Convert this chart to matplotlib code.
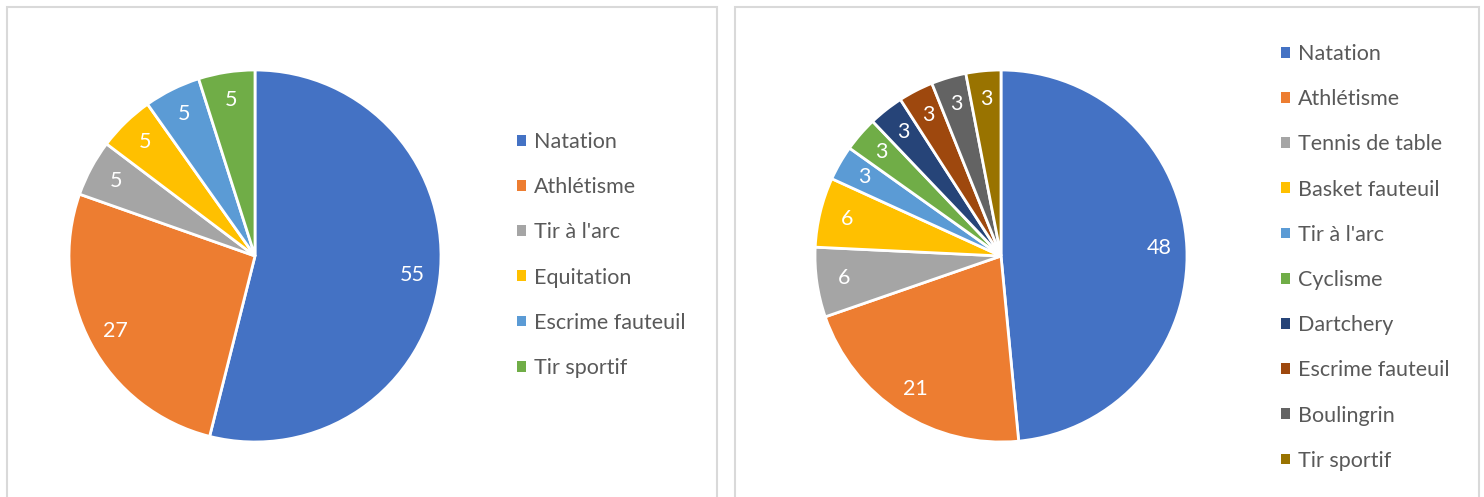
import matplotlib
matplotlib.use("Agg")
import matplotlib.pyplot as plt
from matplotlib.patches import Rectangle

left_labels = ["Natation", "Athlétisme", "Tir à l'arc", "Equitation", "Escrime fauteuil", "Tir sportif"]
left_values = [55, 27, 5, 5, 5, 5]

right_labels = ["Natation", "Athlétisme", "Tennis de table", "Basket fauteuil", "Tir à l'arc",
                "Cyclisme", "Dartchery", "Escrime fauteuil", "Boulingrin", "Tir sportif"]
right_values = [48, 21, 6, 6, 3, 3, 3, 3, 3, 3]

left_colors = ["#4472C4", "#ED7D31", "#A5A5A5", "#FFC000", "#5B9BD5", "#70AD47"]
right_colors = ["#4472C4", "#ED7D31", "#A5A5A5", "#FFC000", "#5B9BD5", "#70AD47",
                "#264478", "#9E480E", "#636363", "#997300"]

plt.rcParams['font.family'] = ['Lato', 'DejaVu Sans']

W, H = 1484, 497
fig = plt.figure(figsize=(W / 100, H / 100), dpi=100)
fig.patch.set_facecolor("white")

# panel borders
for (x0, x1) in [(7, 717), (735, 1479)]:
    fig.patches.append(Rectangle((x0 / W, -0.05), (x1 - x0) / W, (H - 7) / H + 0.05,
                                 transform=fig.transFigure, fill=False,
                                 edgecolor="#D9D9D9", linewidth=1.5))

FS = 15.5

def draw_pie(cx, cy, r, values, colors, labels, legx, legy_top):
    ax = fig.add_axes([(cx - r) / W, (H - cy - r) / H, 2 * r / W, 2 * r / H])
    vals = list(values)
    wedges, texts, autotexts = ax.pie(
        vals, colors=colors, startangle=90, counterclock=False,
        autopct=lambda p: f"{round(p * sum(vals) / 100):d}", pctdistance=0.85,
        wedgeprops=dict(edgecolor="white", linewidth=2),
        textprops=dict(color="white", fontsize=FS))
    ax.set_xlim(-1.0, 1.0)
    ax.set_ylim(-1.0, 1.0)
    ax.set_aspect("equal", adjustable="box")
    ax.axis("off")
    leg = fig.legend(wedges, labels, loc="upper left",
                     bbox_to_anchor=(legx / W, 1 - legy_top / H),
                     frameon=False, fontsize=FS, labelcolor="#595959",
                     handlelength=0.4, handleheight=0.4, handletextpad=0.4,
                     labelspacing=1.17, borderpad=0, borderaxespad=0)
    for h in leg.legend_handles:
        h.set_edgecolor("none")
    return ax

draw_pie(255, 256, 186, left_values, left_colors, left_labels, 517, 132)
draw_pie(1001, 256, 186, right_values, right_colors, right_labels, 1281, 44)

fig.savefig("out.png", dpi=100)
